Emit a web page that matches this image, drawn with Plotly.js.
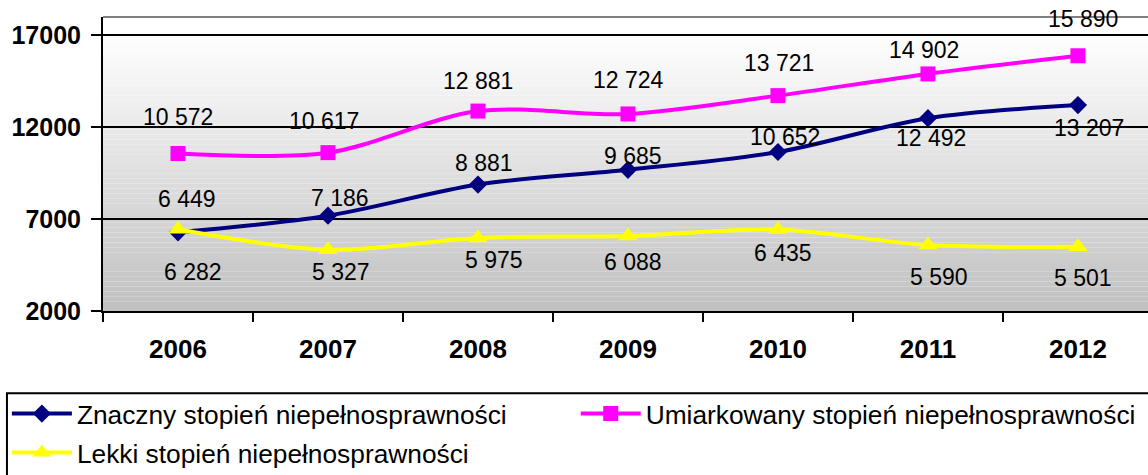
<!DOCTYPE html>
<html>
<head>
<meta charset="utf-8">
<script src="https://cdn.plot.ly/plotly-3.0.1.min.js"></script>
<style>html,body{margin:0;padding:0;background:#fff;}#chart{width:1148px;height:475px;}</style>
</head>
<body>
<div id="chart"></div>
<script>
// ---- data ----
const years = ['2006', '2007', '2008', '2009', '2010', '2011', '2012'];
const seriesNames = ['Znaczny stopień niepełnosprawności', 'Umiarkowany stopień niepełnosprawności', 'Lekki stopień niepełnosprawności'];
const znaczny = [6282, 7186, 8881, 9685, 10652, 12492, 13207];
const umiarkowany = [10572, 10617, 12881, 12724, 13721, 14902, 15890];
const lekki = [6449, 5327, 5975, 6088, 6435, 5590, 5501];
const yTicks = [2000, 7000, 12000, 17000];

// ---- label placement (pixel offsets, style only) ----
const znacznyLabelShift = [[15, -40], [12, 18], [6, 22], [5, 14], [7, 15], [3, -20], [11, -23]];
const umiarkowanyLabelShift = [[0, 36], [-4, 32], [0, 30], [1, 34], [1, 33], [-4, 24], [5, 37]];
const lekkiLabelShift = [[9, 30], [13, -22], [16, -22], [5, -26], [5, -23], [11, -32], [5, -31]];

const fmt = v => { const s = String(v); return s.length > 3 ? s.slice(0, s.length - 3) + ' ' + s.slice(-3) : s; };

const FONT = 'Liberation Sans, Arial, sans-serif';

function trace(name, y, color, symbol, size, legendId) {
  return {
    type: 'scatter', mode: 'lines+markers', name: name,
    x: years, y: y, legend: legendId,
    line: {color: color, width: 4, shape: 'spline', smoothing: 0.9},
    marker: {color: color, symbol: symbol, size: size},
    hoverinfo: 'x+y'
  };
}

const data = [
  trace(seriesNames[0], znaczny, '#000080', 'diamond', 14, 'legend'),
  trace(seriesNames[1], umiarkowany, '#FF00FF', 'square', 15, 'legend3'),
  trace(seriesNames[2], lekki, '#FFFF00', 'triangle-up', 17, 'legend2')
];

const annotations = [];
function addLabels(vals, shifts) {
  vals.forEach((v, i) => {
    annotations.push({
      x: i, y: v, xref: 'x', yref: 'y', text: fmt(v), showarrow: false,
      xanchor: 'center', yanchor: 'middle',
      xshift: shifts[i][0], yshift: shifts[i][1],
      font: {family: FONT, size: 23, color: '#000000'}
    });
  });
}
addLabels(znaczny, znacznyLabelShift);
addLabels(umiarkowany, umiarkowanyLabelShift);
addLabels(lekki, lekkiLabelShift);

// gradient background bands
const shapes = [];
const nBands = 60, y0 = 2000, y1 = 18000;
for (let k = 0; k < nBands; k++) {
  const t = k / nBands;             // 0 at bottom
  const c = Math.round(192 + (255 - 192) * Math.min(1, (t + 0.5 / nBands) * 1.05));
  shapes.push({
    type: 'rect', xref: 'paper', yref: 'y', layer: 'below',
    x0: 0, x1: 1, y0: y0 + (y1 - y0) * t, y1: y0 + (y1 - y0) * (k + 1) / nBands,
    fillcolor: `rgb(${c},${c},${c})`, line: {width: 0}
  });
}
// top border of plot area
shapes.push({type: 'line', xref: 'paper', yref: 'paper', x0: 0, x1: 1, y0: 1, y1: 1,
  line: {color: '#808080', width: 2}});
// legend frame
shapes.push({type: 'rect', xref: 'paper', yref: 'paper', x0: -0.0919, x1: 1.1, y0: -0.28, y1: -0.7,
  line: {color: '#000', width: 2}, fillcolor: 'rgba(0,0,0,0)'});

function legendAt(x, y) {
  return {
    orientation: 'h', xref: 'container', yref: 'container', x: x, y: y,
    xanchor: 'left', yanchor: 'top', itemwidth: 60,
    bgcolor: 'rgba(0,0,0,0)', borderwidth: 0,
    font: {family: FONT, size: 26.3, color: '#000'}
  };
}

const layout = {
  width: 1148, height: 475,
  margin: {l: 103, r: 0, t: 17, b: 164, pad: 0},
  paper_bgcolor: '#fff', plot_bgcolor: 'rgba(0,0,0,0)',
  showlegend: true,
  xaxis: {
    type: 'category', range: [-0.5, 6.467], fixedrange: true,
    showgrid: false, showline: true, linecolor: '#000', linewidth: 2,
    ticks: 'outside', tickson: 'boundaries', ticklen: 9, tickwidth: 2, tickcolor: '#000',
    ticklabelstandoff: 14,
    tickfont: {family: FONT, size: 26, color: '#000', weight: 'bold'}
  },
  yaxis: {
    range: [y0, y1], fixedrange: true,
    tickvals: yTicks, ticktext: yTicks.map(String),
    showgrid: true, gridcolor: '#000', gridwidth: 2,
    showline: true, linecolor: '#000', linewidth: 2,
    ticks: 'outside', ticklen: 10, tickwidth: 2, tickcolor: '#000',
    ticklabelstandoff: 5, zeroline: false,
    tickfont: {family: FONT, size: 25, color: '#000', weight: 'bold'}
  },
  legend: legendAt(0.006, 0.179),
  legend2: legendAt(0.006, 0.097),
  legend3: legendAt(0.5015, 0.179),
  annotations: annotations,
  shapes: shapes
};

Plotly.newPlot('chart', data, layout, {displayModeBar: false, staticPlot: true});
</script>
</body>
</html>
